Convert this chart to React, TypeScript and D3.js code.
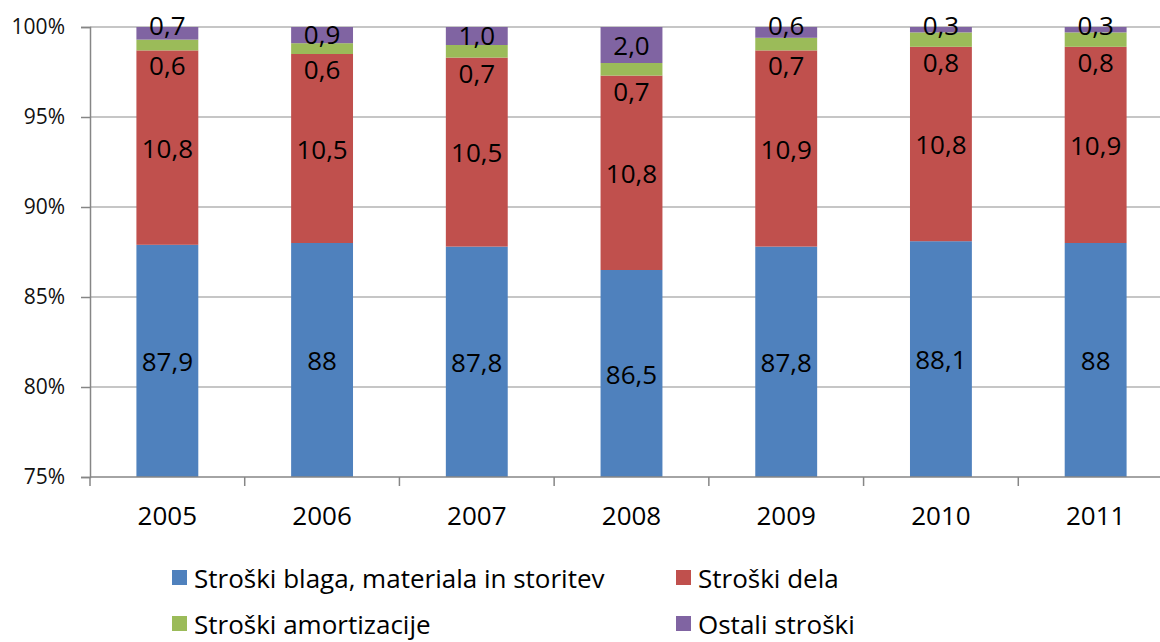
import React, { useEffect, useRef } from 'react';
import * as d3 from 'd3';

// values (share of costs, %)
const years = ['2005', '2006', '2007', '2008', '2009', '2010', '2011'];
const materials = [87.9, 88, 87.8, 86.5, 87.8, 88.1, 88];
const labour = [10.8, 10.5, 10.5, 10.8, 10.9, 10.8, 10.9];
const depreciation = [0.6, 0.6, 0.7, 0.7, 0.7, 0.8, 0.8];
const other = [0.7, 0.9, 1.0, 2.0, 0.6, 0.3, 0.3];
const materialLabels = ['87,9', '88', '87,8', '86,5', '87,8', '88,1', '88'];
const yTicks = [75, 80, 85, 90, 95, 100];

const seriesNames = [
    'Stroški blaga, materiala in storitev',
    'Stroški dela',
    'Stroški amortizacije',
    'Ostali stroški',
];
const colors = ['#4F81BD', '#C0504D', '#9BBB59', '#8064A2'];

const fmt = (v: number) => v.toFixed(1).replace('.', ',');

const App = () => {
    const ref = useRef<SVGSVGElement>(null);

    useEffect(() => {
        const svg = d3.select(ref.current);
        svg.selectAll('*').remove();

        const font = '"Open Sans", "Noto Sans", sans-serif';
        const left = 90, right = 1173, top = 27, bottom = 477;

        const rows = years.map((year, i) => ({
            year,
            s0: materials[i],
            s1: labour[i],
            s2: depreciation[i],
            s3: other[i],
        }));
        const keys = ['s0', 's1', 's2', 's3'];
        const stacked = d3.stack<any>().keys(keys)(rows);

        const x = d3.scaleBand()
            .domain(years)
            .range([left, right])
            .paddingInner(0.6)
            .paddingOuter(0.3);

        const y = d3.scaleLinear()
            .domain([75, 100])
            .range([bottom, top]);

        // gridlines
        svg.append('g')
            .selectAll('line')
            .data(yTicks.slice(1))
            .join('line')
            .attr('x1', left)
            .attr('x2', 1160)
            .attr('y1', d => y(d))
            .attr('y2', d => y(d))
            .attr('stroke', '#b3b3b3')
            .attr('stroke-width', 1.5);

        // bars (clipped to the visible range)
        const bars = svg.append('g');
        stacked.forEach((layer, k) => {
            bars.selectAll(null)
                .data(layer)
                .join('rect')
                .attr('x', (d: any) => x(d.data.year)!)
                .attr('width', x.bandwidth())
                .attr('y', d => y(Math.min(100, d[1])))
                .attr('height', d => y(Math.max(75, d[0])) - y(Math.min(100, d[1])))
                .attr('fill', colors[k]);
        });

        // y axis
        const yAxis = svg.append('g')
            .attr('transform', `translate(${left},0)`)
            .call(d3.axisLeft(y)
                .tickValues(yTicks)
                .tickFormat(d => `${d}%`)
                .tickSize(9)
                .tickPadding(16));
        yAxis.select('.domain').attr('stroke', '#868686').attr('stroke-width', 1.5);
        yAxis.selectAll('.tick line').attr('stroke', '#868686').attr('stroke-width', 1.5);
        yAxis.selectAll('.tick text')
            .attr('fill', '#111')
            .style('font-family', font)
            .style('font-size', '21px');

        // x axis
        const step = x.step();
        svg.append('line')
            .attr('x1', left).attr('x2', 1160)
            .attr('y1', bottom).attr('y2', bottom)
            .attr('stroke', '#868686').attr('stroke-width', 1.5);
        svg.append('g')
            .selectAll('line')
            .data(d3.range(years.length + 1))
            .join('line')
            .attr('x1', i => left + i * step)
            .attr('x2', i => left + i * step)
            .attr('y1', bottom)
            .attr('y2', bottom + 9)
            .attr('stroke', '#868686')
            .attr('stroke-width', 1.5);
        svg.append('g')
            .selectAll('text')
            .data(years)
            .join('text')
            .attr('x', d => x(d)! + x.bandwidth() / 2)
            .attr('y', 515)
            .attr('text-anchor', 'middle')
            .attr('dominant-baseline', 'central')
            .style('font-family', font)
            .style('font-size', '26px')
            .attr('fill', '#000')
            .text(d => d);

        // data labels
        const labels = svg.append('g')
            .style('font-family', font)
            .style('font-size', '26px')
            .attr('fill', '#000')
            .attr('text-anchor', 'middle')
            .attr('dominant-baseline', 'central');

        stacked.forEach((layer, k) => {
            labels.selectAll(null)
                .data(layer)
                .join('text')
                .attr('x', (d: any) => x(d.data.year)! + x.bandwidth() / 2)
                .attr('y', d => {
                    const y0 = y(Math.max(75, d[0]));
                    const y1 = y(Math.min(100, d[1]));
                    if (k === 2) return y0 + 15; // thin green slice: label sits just below
                    if (k === 3 && y0 - y1 < 15) return y1 - 2;
                    if (k === 3 && y0 - y1 < 20) return (y0 + y1) / 2 - 1;
                    return (y0 + y1) / 2;
                })
                .text((d, i) => (k === 0 ? materialLabels[i] : fmt(d[1] - d[0])));
        });

        // legend
        const legendPos = [
            [172, 578], [676, 578],
            [172, 624], [676, 624],
        ];
        const legend = svg.append('g');
        seriesNames.forEach((name, k) => {
            const [lx, ly] = legendPos[k];
            legend.append('rect')
                .attr('x', lx)
                .attr('y', ly - 8)
                .attr('width', 15)
                .attr('height', 15)
                .attr('fill', colors[k]);
            legend.append('text')
                .attr('x', lx + 22)
                .attr('y', ly)
                .attr('dominant-baseline', 'central')
                .style('font-family', font)
                .style('font-size', '26px')
                .attr('fill', '#000')
                .text(name);
        });
    }, []);

    return (
        <svg
            ref={ref}
            width={1160}
            height={642}
            style={{ position: 'absolute', left: 0, top: 0, background: '#fff' }}
        />
    );
};

export default App;
